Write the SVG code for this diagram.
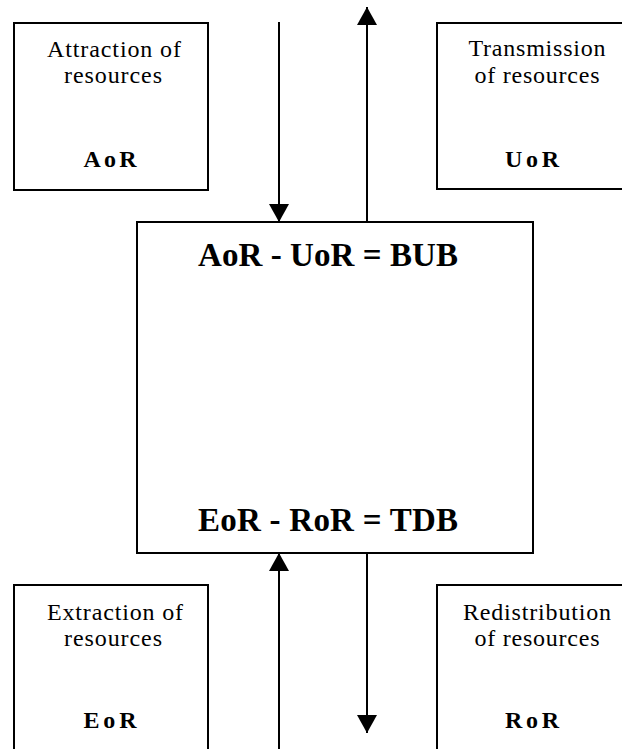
<svg xmlns="http://www.w3.org/2000/svg" width="622" height="749" viewBox="0 0 622 749">
<style>
.box{fill:#fff;stroke:#000;stroke-width:2}
.t{font-family:"Liberation Serif","Times New Roman",serif;font-size:24px;text-anchor:middle;fill:#000}
.b{font-family:"Liberation Serif","Times New Roman",serif;font-size:24px;font-weight:bold;text-anchor:middle;fill:#000}
.big{font-family:"Liberation Serif","Times New Roman",serif;font-size:33px;font-weight:bold;text-anchor:middle;fill:#000}
.c{stroke:#000;stroke-width:2;fill:none}
</style>
<defs>
<marker id="ah" markerUnits="userSpaceOnUse" markerWidth="20" markerHeight="20" refX="18" refY="10" orient="auto">
<path d="M0,0 L18,10 L0,20 Z" fill="#000"/>
</marker>
</defs>
<g id="attraction">
<rect class="box" x="14" y="23" width="194" height="167"/>
<text class="t" x="114" y="57" textLength="134" lengthAdjust="spacing">Attraction of</text>
<text class="t" x="113" y="83" textLength="98" lengthAdjust="spacing">resources</text>
<text class="b" x="110" y="167" textLength="53" lengthAdjust="spacing">AoR</text>
</g>
<g id="transmission">
<rect class="box" x="437" y="23" width="200" height="166"/>
<text class="t" x="537" y="56" textLength="137" lengthAdjust="spacing">Transmission</text>
<text class="t" x="537" y="83" textLength="125" lengthAdjust="spacing">of resources</text>
<text class="b" x="532" y="167" textLength="54" lengthAdjust="spacing">UoR</text>
</g>
<g id="center">
<rect class="box" x="137" y="222" width="396" height="331"/>
<text class="big" x="328" y="266" textLength="260" lengthAdjust="spacing">AoR - UoR = BUB</text>
<text class="big" x="328" y="531" textLength="260" lengthAdjust="spacing">EoR - RoR = TDB</text>
</g>
<g id="extraction">
<rect class="box" x="14" y="585" width="194" height="180"/>
<text class="t" x="115" y="620" textLength="136" lengthAdjust="spacing">Extraction of</text>
<text class="t" x="113" y="646" textLength="98" lengthAdjust="spacing">resources</text>
<text class="b" x="110" y="728" textLength="53" lengthAdjust="spacing">EoR</text>
</g>
<g id="redistribution">
<rect class="box" x="437" y="585" width="200" height="180"/>
<text class="t" x="537" y="620" textLength="148" lengthAdjust="spacing">Redistribution</text>
<text class="t" x="537" y="646" textLength="125" lengthAdjust="spacing">of resources</text>
<text class="b" x="532" y="728" textLength="54" lengthAdjust="spacing">RoR</text>
</g>
<g id="connectors">
<line class="c" x1="279" y1="22" x2="279" y2="222" marker-end="url(#ah)"/>
<line class="c" x1="367" y1="222" x2="367" y2="7" stroke-width="1.6" marker-end="url(#ah)"/>
<line class="c" x1="279" y1="749" x2="279" y2="553" marker-end="url(#ah)"/>
<line class="c" x1="367" y1="553" x2="367" y2="733" stroke-width="1.6" marker-end="url(#ah)"/>
</g>
</svg>
